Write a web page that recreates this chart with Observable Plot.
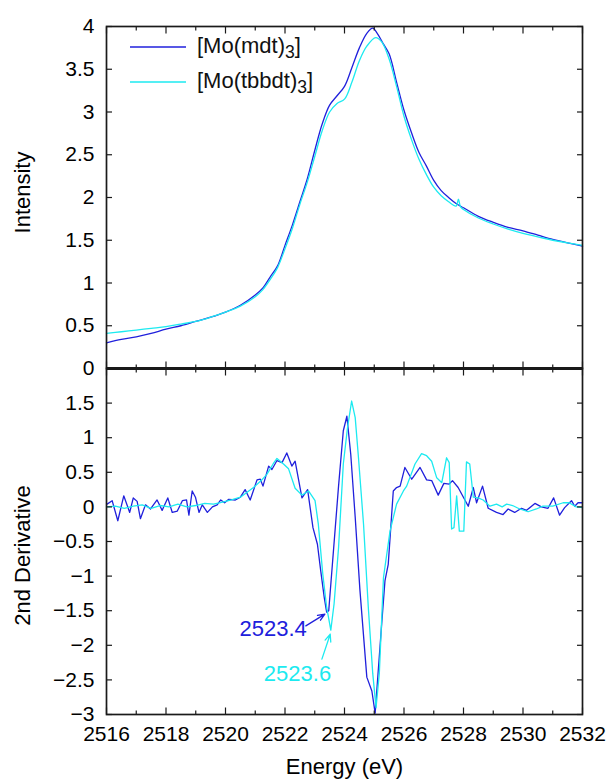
<!DOCTYPE html>
<html><head><meta charset="utf-8">
<script src="https://cdn.jsdelivr.net/npm/d3@7"></script>
<script src="https://cdn.jsdelivr.net/npm/@observablehq/plot@0.6"></script>
<style>
body{margin:0;background:#fff;font-family:"Liberation Sans",Arial,sans-serif;}
#wrap{position:relative;width:615px;height:780px;overflow:hidden;}
#wrap svg.panel{position:absolute;left:0;overflow:visible;background:transparent;}
.lgtext{position:absolute;font-size:22px;line-height:28px;color:#111;white-space:nowrap;}
.lgtext sub{font-size:0.8em;vertical-align:-0.3em;line-height:0;}
</style></head><body><div id="wrap"></div>
<script>
// ---- data ----
const xDomain = [2516, 2532];
const xMajor = [2516, 2518, 2520, 2522, 2524, 2526, 2528, 2530, 2532];
const xMinor = [2517, 2519, 2521, 2523, 2525, 2527, 2529, 2531];
const yTopTicks = [0, 0.5, 1, 1.5, 2, 2.5, 3, 3.5, 4];
const yBotTicks = [-3, -2.5, -2, -1.5, -1, -0.5, 0, 0.5, 1, 1.5];
const seriesNames = ["mdt", "tbbdt"];
const seriesColors = ["#2020dc", "#1ceaf0"];

// Intensity (normalized S K-edge XAS)
const mdtIntensity = [
 [2516.0,0.30],[2516.5,0.34],[2517.0,0.37],[2517.5,0.41],[2518.0,0.46],[2518.5,0.50],
 [2519.0,0.55],[2519.5,0.60],[2520.0,0.66],[2520.5,0.74],[2521.0,0.86],[2521.25,0.94],
 [2521.5,1.07],[2521.75,1.20],[2522.0,1.44],[2522.25,1.68],[2522.5,1.95],[2522.75,2.22],
 [2523.0,2.55],[2523.25,2.86],[2523.5,3.08],[2523.75,3.19],[2524.0,3.30],[2524.25,3.52],
 [2524.5,3.75],[2524.75,3.92],[2524.95,3.98],[2525.1,3.92],[2525.3,3.80],[2525.5,3.68],
 [2525.75,3.35],[2526.0,3.02],[2526.25,2.76],[2526.5,2.53],[2526.75,2.37],[2527.0,2.20],
 [2527.25,2.08],[2527.5,2.00],[2527.75,1.93],[2528.0,1.88],[2528.5,1.78],[2529.0,1.71],
 [2529.5,1.65],[2530.0,1.61],[2530.5,1.56],[2531.0,1.51],[2531.5,1.47],[2532.0,1.43]
];
const tbbdtIntensity = [
 [2516.0,0.41],[2516.5,0.43],[2517.0,0.45],[2517.5,0.47],[2518.0,0.49],[2518.5,0.52],
 [2519.0,0.55],[2519.5,0.60],[2520.0,0.66],[2520.5,0.73],[2521.0,0.84],[2521.25,0.92],
 [2521.5,1.04],[2521.75,1.18],[2522.0,1.40],[2522.25,1.64],[2522.5,1.92],[2522.75,2.18],
 [2523.0,2.48],[2523.25,2.78],[2523.5,3.00],[2523.75,3.10],[2524.0,3.15],[2524.25,3.35],
 [2524.5,3.60],[2524.75,3.77],[2525.05,3.87],[2525.25,3.82],[2525.5,3.62],[2525.75,3.30],
 [2526.0,2.95],[2526.25,2.68],[2526.5,2.45],[2526.75,2.27],[2527.0,2.12],[2527.25,2.02],
 [2527.5,1.95],[2527.75,1.90],[2527.83,1.98],[2527.9,1.89],[2528.0,1.86],[2528.5,1.76],
 [2529.0,1.69],[2529.5,1.63],[2530.0,1.58],[2530.5,1.54],[2531.0,1.50],[2531.5,1.47],[2532.0,1.44]
];

// 2nd derivative
const mdtDeriv = [
 [2516.02,0.04],[2516.19,0.09],[2516.38,-0.20],[2516.58,0.16],[2516.78,-0.08],[2516.90,0.13],
 [2517.03,0.08],[2517.14,-0.17],[2517.31,0.03],[2517.48,-0.03],[2517.70,0.10],[2517.87,-0.05],
 [2518.06,0.13],[2518.21,-0.08],[2518.38,-0.06],[2518.55,0.09],[2518.69,0.10],[2518.77,-0.12],
 [2518.88,0.23],[2518.99,0.14],[2519.11,-0.08],[2519.22,0.03],[2519.39,-0.08],[2519.56,0.00],
 [2519.72,0.03],[2519.84,0.10],[2519.97,0.06],[2520.11,0.11],[2520.33,0.10],[2520.50,0.14],
 [2520.66,0.25],[2520.83,0.10],[2521.06,0.39],[2521.17,0.40],[2521.26,0.30],[2521.45,0.59],
 [2521.56,0.54],[2521.73,0.67],[2521.90,0.64],[2522.06,0.78],[2522.23,0.59],[2522.34,0.66],
 [2522.57,0.13],[2522.76,0.25],[2522.94,-0.30],[2523.09,-0.54],[2523.20,-0.92],[2523.32,-1.31],
 [2523.40,-1.52],[2523.47,-1.50],[2523.80,0.30],[2523.96,1.10],[2524.08,1.31],[2524.21,0.76],
 [2524.36,-0.15],[2524.52,-1.21],[2524.75,-2.46],[2524.92,-2.66],[2525.03,-2.98],[2525.25,-1.69],
 [2525.36,-1.07],[2525.47,-0.83],[2525.64,0.23],[2525.75,0.28],[2525.87,0.30],[2526.03,0.57],
 [2526.26,0.40],[2526.54,0.57],[2526.76,0.39],[2526.93,0.38],[2527.15,0.17],[2527.34,0.34],
 [2527.52,0.33],[2527.63,0.38],[2527.82,0.28],[2528.16,0.01],[2528.33,0.28],[2528.44,0.06],
 [2528.64,0.30],[2528.83,-0.02],[2529.11,-0.08],[2529.33,-0.11],[2529.50,-0.03],[2529.72,-0.08],
 [2529.95,-0.02],[2530.12,-0.05],[2530.40,0.05],[2530.62,0.00],[2530.84,-0.02],[2531.03,0.13],
 [2531.23,-0.12],[2531.40,-0.01],[2531.63,0.09],[2531.74,0.01],[2531.85,0.06],[2532.0,0.06]
];
const tbbdtDeriv = [
 [2516.0,0.00],[2516.3,0.01],[2516.6,-0.02],[2516.9,0.01],[2517.2,0.03],[2517.5,-0.02],
 [2517.8,0.02],[2518.1,0.00],[2518.4,0.04],[2518.7,0.00],[2519.0,0.02],[2519.3,0.05],
 [2519.6,0.04],[2519.9,0.07],[2520.2,0.10],[2520.5,0.14],[2520.94,0.28],[2521.2,0.38],
 [2521.39,0.47],[2521.6,0.62],[2521.73,0.70],[2521.95,0.62],[2522.12,0.55],[2522.34,0.27],
 [2522.57,0.17],[2522.79,0.23],[2523.01,0.09],[2523.12,-0.25],[2523.27,-0.97],[2523.40,-1.45],
 [2523.54,-1.78],[2523.65,-1.40],[2523.80,-0.59],[2523.96,0.62],[2524.10,1.14],[2524.24,1.53],
 [2524.36,1.29],[2524.47,0.71],[2524.64,-0.25],[2524.80,-1.45],[2524.95,-2.41],[2525.06,-2.90],
 [2525.17,-2.41],[2525.31,-1.02],[2525.53,-0.35],[2525.75,0.04],[2525.98,0.23],[2526.09,0.30],
 [2526.37,0.62],[2526.59,0.77],[2526.76,0.74],[2526.93,0.66],[2527.10,0.42],[2527.27,0.35],
 [2527.43,0.71],[2527.52,0.64],[2527.60,-0.32],[2527.68,-0.30],[2527.77,0.16],[2527.86,-0.35],
 [2528.01,-0.35],[2528.10,0.65],[2528.21,0.62],[2528.33,0.14],[2528.49,0.13],[2528.66,0.10],
 [2528.89,0.01],[2529.11,0.04],[2529.30,0.00],[2529.45,0.04],[2529.65,0.02],[2529.89,-0.03],
 [2530.17,-0.07],[2530.45,-0.03],[2530.67,0.01],[2531.00,0.01],[2531.35,0.06],[2531.55,0.06],
 [2531.79,0.00],[2532.0,-0.01]
];

// annotations in data units: label centres and arrows (tail -> head at minimum)
const annotLabels = ["2523.4", "2523.6"];
const annotText = [
 {x:2521.60, y:-1.76},
 {x:2522.42, y:-2.42}
];
const annotArrows = [
 {x1:2522.70, y1:-1.72, x2:2523.34, y2:-1.55},
 {x1:2523.24, y1:-2.20, x2:2523.52, y2:-1.84}
];

// ---- drawing ----
const FONT = "Liberation Sans, Arial, Helvetica, sans-serif";
const INK = "#1a1a1a";
const fmt = d => String(d).replace("-", "\u2212");
const W = 615, ML = 106, MR = 33;

function tickMarks(yTicks, yTickVals) {
  return [
    Plot.axisX(xMajor, {anchor:"bottom", tickSize:-6.5, fill:"none", stroke:INK, strokeWidth:1.2, label:null}),
    Plot.axisX(xMinor, {anchor:"bottom", tickSize:-3.5, fill:"none", stroke:INK, strokeWidth:1.2, label:null}),
    Plot.axisX(xMajor, {anchor:"top", tickSize:-6.5, fill:"none", stroke:INK, strokeWidth:1.2, label:null}),
    Plot.axisX(xMinor, {anchor:"top", tickSize:-3.5, fill:"none", stroke:INK, strokeWidth:1.2, label:null}),
    Plot.axisY(yTicks, {anchor:"left", tickSize:-6, fill:"none", stroke:INK, strokeWidth:1.2, label:null}),
    Plot.axisY(yTicks, {anchor:"right", tickSize:-6, fill:"none", stroke:INK, strokeWidth:1.2, label:null}),
    Plot.axisY(yTickVals, {anchor:"left", tickSize:0, tickPadding:12, stroke:"none", fill:"#000", label:null, tickFormat:fmt, fontSize:21})
  ];
}

const topPlot = Plot.plot({
  width: W, height: 368, marginTop: 26, marginBottom: 0, marginLeft: ML, marginRight: MR,
  style: {fontFamily: FONT, fontSize: "21px", background: "transparent", overflow: "visible"},
  x: {domain: xDomain}, y: {domain: [0, 4]},
  marks: [
    Plot.line(mdtIntensity, {x: d => d[0], y: d => d[1], stroke: seriesColors[0], strokeWidth: 1.3, curve: "catmull-rom"}),
    Plot.line(tbbdtIntensity, {x: d => d[0], y: d => d[1], stroke: seriesColors[1], strokeWidth: 1.3, curve: "catmull-rom"}),
    ...tickMarks(yTopTicks, yTopTicks),
    Plot.frame({stroke: INK, strokeWidth: 1.7}),
    Plot.ruleY([0], {stroke: INK, strokeWidth: 3.2}),
    Plot.text(["Intensity"], {frameAnchor: "left", rotate: -90, dx: -84, dy: -5, lineAnchor: "middle", textAnchor: "middle", fill: "#000", fontSize: 22})
  ]
});

const botPlot = Plot.plot({
  width: W, height: 412, marginTop: 0, marginBottom: 66, marginLeft: ML, marginRight: MR,
  style: {fontFamily: FONT, fontSize: "21px", background: "transparent", overflow: "visible"},
  x: {domain: xDomain}, y: {domain: [-3, 2]},
  marks: [
    Plot.line(mdtDeriv, {x: d => d[0], y: d => d[1], stroke: seriesColors[0], strokeWidth: 1.3}),
    Plot.line(tbbdtDeriv, {x: d => d[0], y: d => d[1], stroke: seriesColors[1], strokeWidth: 1.3}),
    ...tickMarks(yBotTicks.concat([2]), yBotTicks),
    Plot.axisX(xMajor, {anchor:"bottom", tickSize:0, tickPadding:12, stroke:"none", fill:"#000", label:null, tickFormat: d => String(d), fontSize:21}),
    Plot.frame({stroke: INK, strokeWidth: 1.7}),
    Plot.arrow(annotArrows, {x1:"x1", y1:"y1", x2:"x2", y2:"y2", stroke: (d,i) => seriesColors[i], strokeWidth: 1.3, headLength: 9, headAngle: 45}),
    Plot.text(annotText, {x:"x", y:"y", text:(d,i) => annotLabels[i], textAnchor:"middle", fill:(d,i) => seriesColors[i], fontSize: 22, lineAnchor:"middle"}),
    Plot.text(["2nd Derivative"], {frameAnchor: "left", rotate: -90, dx: -84, dy: 14, lineAnchor: "middle", textAnchor: "middle", fill: "#000", fontSize: 22}),
    Plot.text(["Energy (eV)"], {frameAnchor: "bottom", dy: 52, lineAnchor: "middle", textAnchor: "middle", fill: "#000", fontSize: 22})
  ]
});

const wrap = document.getElementById("wrap");
topPlot.classList.add("panel"); topPlot.style.top = "0px";
botPlot.classList.add("panel"); botPlot.style.top = "368px";
wrap.appendChild(topPlot);
wrap.appendChild(botPlot);

// legend (inside top panel)
const legendRows = [
  {name: seriesNames[0], color: seriesColors[0], top: 32},
  {name: seriesNames[1], color: seriesColors[1], top: 67}
];
legendRows.forEach(r => {
  const s = document.createElementNS("http://www.w3.org/2000/svg", "svg");
  s.setAttribute("width", 60); s.setAttribute("height", 6);
  s.style.position = "absolute"; s.style.left = "129px"; s.style.top = (r.top + 12) + "px";
  s.innerHTML = `<line x1="1" x2="57" y1="3" y2="3" stroke="${r.color}" stroke-width="1.7"/>`;
  wrap.appendChild(s);
  const t = document.createElement("div");
  t.className = "lgtext";
  t.style.left = "197px"; t.style.top = r.top + "px";
  t.innerHTML = `[Mo(${r.name})<sub>3</sub>]`;
  wrap.appendChild(t);
});
</script></body></html>
